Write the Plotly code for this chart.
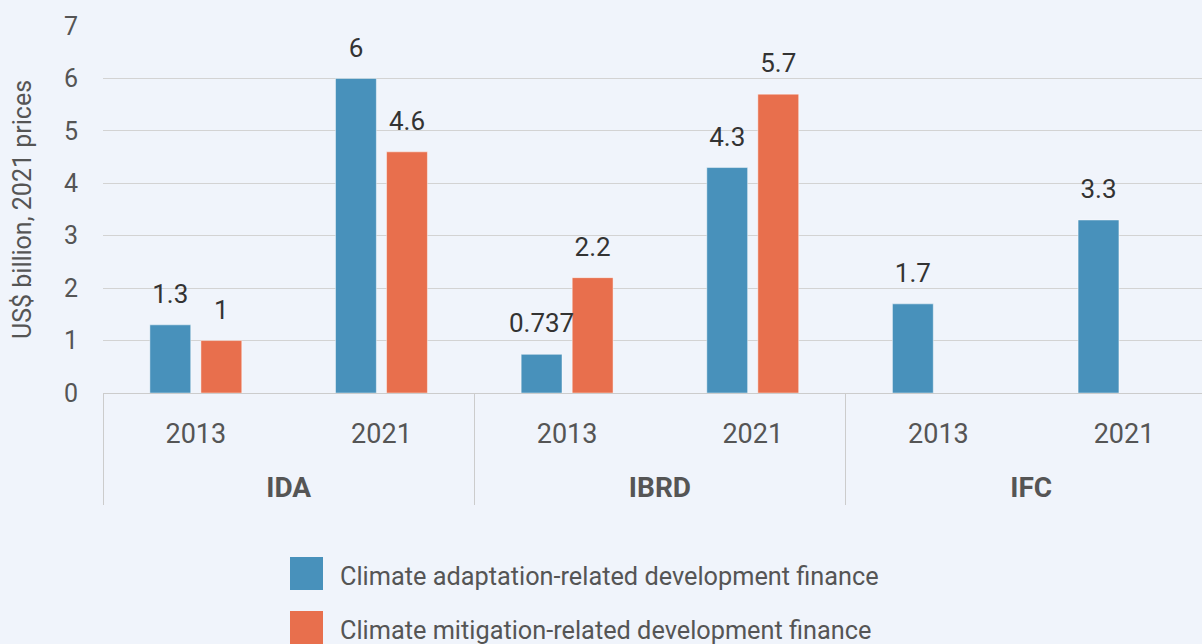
import plotly.graph_objects as go

# dados
grupos = ["IDA", "IDA", "IBRD", "IBRD", "IFC", "IFC"]
anos = ["2013", "2021", "2013", "2021", "2013", "2021"]
adaptacao = [1.3, 6, 0.737, 4.3, 1.7, 3.3]
mitigacao = [1, 4.6, 2.2, 5.7, None, None]
series = ["Climate adaptation-related development finance",
          "Climate mitigation-related development finance"]

azul = "#4891bb"
laranja = "#e86f4d"
fundo = "#f0f4fb"

# rótulos do eixo x (dois níveis); a linha extra nos anos afasta o 2º nível
rot_grupos = ["<span style='font-size:28px'><b>%s</b></span>" % g for g in grupos]
rot_anos = ["%s<br><span style='font-size:38px'>&nbsp;</span>" % a for a in anos]
eixo_x = [rot_grupos, rot_anos]

fig = go.Figure()
for nome, valores, cor in [(series[0], adaptacao, azul), (series[1], mitigacao, laranja)]:
    fig.add_trace(go.Bar(
        x=eixo_x, y=valores, name=nome,
        marker=dict(color=cor, line=dict(color="rgba(255,255,255,0.45)", width=1)),
        showlegend=False, hoverinfo="skip",
    ))
# rótulos de valor acima das barras
for nome, valores in [(series[0], adaptacao), (series[1], mitigacao)]:
    fig.add_trace(go.Scatter(
        x=eixo_x, y=valores, mode="markers+text",
        text=["" if v is None else str(v) for v in valores],
        textposition="top center",
        textfont=dict(size=26, color="#333333"),
        marker=dict(size=23, opacity=0),
        showlegend=False, hoverinfo="skip", cliponaxis=False,
    ))

# legenda desenhada à mão (quadrados grandes como na referência)
L, T, W, H = 103, 26, 1099, 367
def px(x):
    return (x - L) / W
def py(y):
    return (T + H - y) / H

shapes = []
annotations = []
for i, (nome, cor) in enumerate([(series[0], azul), (series[1], laranja)]):
    topo = 557 + i * 54
    shapes.append(dict(type="rect", xref="paper", yref="paper",
                       x0=px(290), x1=px(323), y0=py(topo), y1=py(topo + 33),
                       fillcolor=cor, line=dict(width=0)))
    annotations.append(dict(xref="paper", yref="paper", x=px(338), y=py(topo + 19),
                            xanchor="left", yanchor="middle", showarrow=False,
                            text=nome, font=dict(size=25.3, color="#555555")))

fig.update_layout(
    width=1202, height=644,
    paper_bgcolor=fundo, plot_bgcolor=fundo,
    font=dict(family="Roboto, sans-serif", color="#555555"),
    margin=dict(l=L, r=0, t=T, b=644 - T - H),
    barmode="group", bargap=0.45, bargroupgap=0.2,
    scattermode="group", scattergap=0.45,
    showlegend=False,
    shapes=shapes, annotations=annotations,
    xaxis=dict(
        type="multicategory", range=[-0.5, 5.42],
        tickfont=dict(size=27, color="#555555"),
        showline=True, linecolor="#cccccc", linewidth=1,
        showdividers=True, dividercolor="#cccccc", dividerwidth=1,
        ticks="", ticklabelstandoff=17,
    ),
    yaxis=dict(
        range=[0, 7], dtick=1,
        showgrid=True, gridcolor="#d3d3d3", gridwidth=1,
        zeroline=False,
        tickfont=dict(size=25, color="#555555"),
        title=dict(text="US$ billion, 2021 prices", font=dict(size=25, color="#555555"), standoff=25),
        ticklabelstandoff=24,
    ),
)

fig.write_html("out.html", config={"displayModeBar": False},
               post_script="document.body.style.margin='0';")
